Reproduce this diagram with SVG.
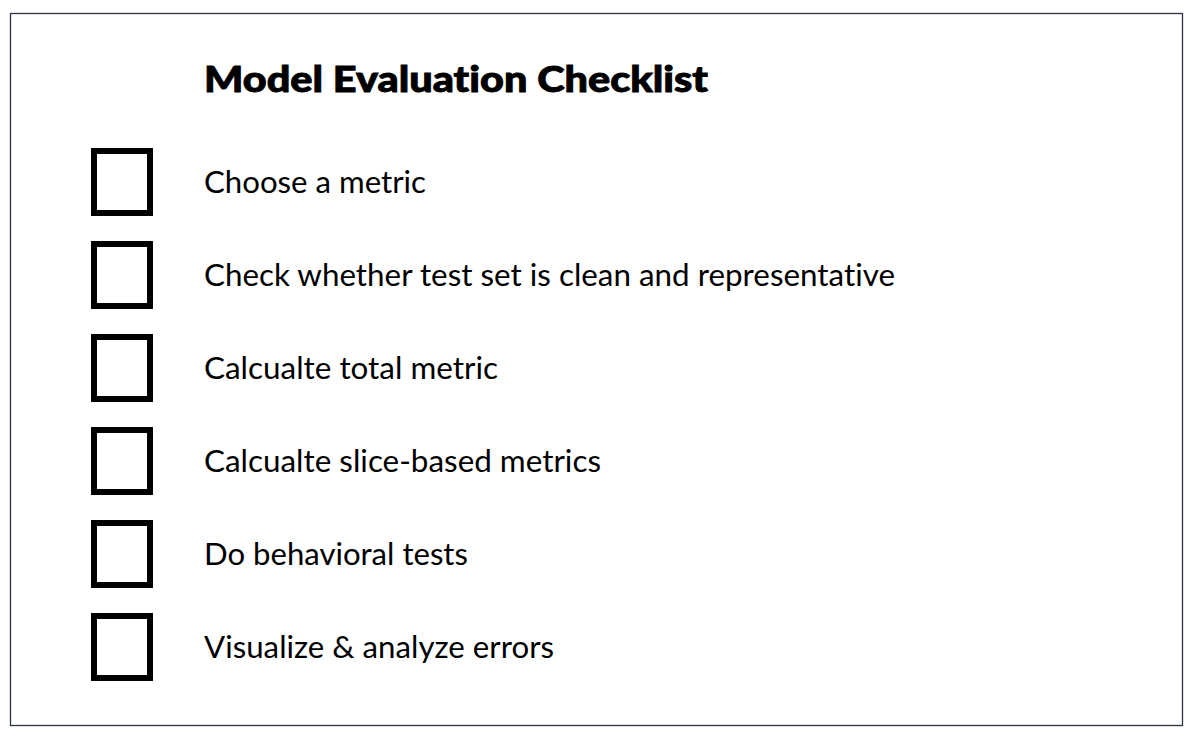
<svg xmlns="http://www.w3.org/2000/svg" width="1196" height="740" viewBox="0 0 1196 740">
<style>
.frame{fill:#fff;stroke:#2b3341;stroke-width:1.3}
.box{fill:none;stroke:#000;stroke-width:6}
text{font-variant-ligatures:none;font-feature-settings:"liga" 0,"clig" 0;}
.title{font-family:Lato,"Open Sans",sans-serif;font-weight:900;font-size:36px;fill:#000;stroke:#000;stroke-width:0.9}
.item{font-family:Lato,"Open Sans",sans-serif;font-size:30px;fill:#000}
</style>
<rect width="1196" height="740" fill="#fff"/>
<rect class="frame" x="10.5" y="13.5" width="1172" height="712"/>
<g id="title"><text class="title" x="204" y="92" textLength="504" lengthAdjust="spacingAndGlyphs">Model Evaluation Checklist</text></g>
<g id="item1"><rect class="box" x="94" y="151" width="56" height="62"/><text class="item" x="204" y="193" textLength="222" lengthAdjust="spacingAndGlyphs">Choose a metric</text></g>
<g id="item2"><rect class="box" x="94" y="244" width="56" height="62"/><text class="item" x="204" y="286" textLength="691" lengthAdjust="spacingAndGlyphs">Check whether test set is clean and representative</text></g>
<g id="item3"><rect class="box" x="94" y="337" width="56" height="62"/><text class="item" x="204" y="379" textLength="294" lengthAdjust="spacingAndGlyphs">Calcualte total metric</text></g>
<g id="item4"><rect class="box" x="94" y="430" width="56" height="62"/><text class="item" x="204" y="472" textLength="397" lengthAdjust="spacingAndGlyphs">Calcualte slice-based metrics</text></g>
<g id="item5"><rect class="box" x="94" y="523" width="56" height="62"/><text class="item" x="204" y="565" textLength="264" lengthAdjust="spacingAndGlyphs">Do behavioral tests</text></g>
<g id="item6"><rect class="box" x="94" y="616" width="56" height="62"/><text class="item" x="204" y="658" textLength="350" lengthAdjust="spacingAndGlyphs">Visualize &amp; analyze errors</text></g>
<g id="connectors"/>
</svg>
